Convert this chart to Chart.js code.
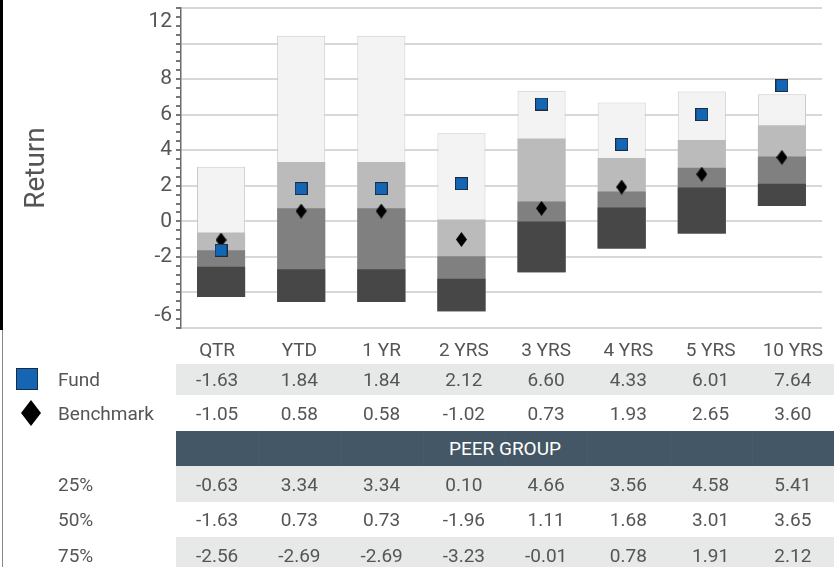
<!DOCTYPE html>
<html>
<head>
<meta charset="utf-8">
<script src="https://cdn.jsdelivr.net/npm/chart.js@4.4.1/dist/chart.umd.min.js"></script>
<style>
  html, body { margin: 0; padding: 0; background: #ffffff; }
  body { width: 839px; height: 567px; position: relative; overflow: hidden; font-family: Roboto, "Open Sans", sans-serif; color: #555; }
  #chartWrap { position: absolute; left: 0; top: 0; width: 839px; height: 340px; }
  .edge1 { position: absolute; left: 0; top: 0; width: 3px; height: 330px; background: #000; }
  .edge2 { position: absolute; left: 2px; top: 330px; width: 1px; height: 237px; background: #888; }
  .row { position: absolute; left: 0; width: 839px; }
  .bg { position: absolute; left: 176px; width: 658px; top: 0; bottom: 0; }
  .cell { position: absolute; top: 0; bottom: 0; width: 82.25px; display: flex; align-items: center; justify-content: center; font-size: 19px; color: #555; }
  .lab { position: absolute; left: 58px; top: 0; bottom: 0; display: flex; align-items: center; font-size: 19px; color: #555; }
  .sep { position: absolute; top: 0; bottom: 0; width: 1px; background: rgba(255,255,255,0.03); }
</style>
</head>
<body>
<div id="chartWrap"><canvas id="c" width="839" height="340"></canvas></div>
<div class="edge1"></div><div class="edge2"></div>
<div id="table"></div>
<script>
// ---- data ----
const categories = ['QTR', 'YTD', '1 YR', '2 YRS', '3 YRS', '4 YRS', '5 YRS', '10 YRS'];
const fund       = [-1.63, 1.84, 1.84, 2.12, 6.60, 4.33, 6.01, 7.64];
const benchmark  = [-1.05, 0.58, 0.58, -1.02, 0.73, 1.93, 2.65, 3.60];
const peer5      = [3.07, 10.44, 10.44, 4.95, 7.34, 6.68, 7.30, 7.15];
const peer25     = [-0.63, 3.34, 3.34, 0.10, 4.66, 3.56, 4.58, 5.41];
const peer50     = [-1.63, 0.73, 0.73, -1.96, 1.11, 1.68, 3.01, 3.65];
const peer75     = [-2.56, -2.69, -2.69, -3.23, -0.01, 0.78, 1.91, 2.12];
const peer95     = [-4.26, -4.54, -4.54, -5.06, -2.86, -1.53, -0.68, 0.86];
const yTickLabels = [12, 8, 6, 4, 2, 0, -2, -6];
const yMin = -6, yMax = 12;
const rowLabels = { fund: 'Fund', benchmark: 'Benchmark', peer: 'PEER GROUP', p25: '25%', p50: '50%', p75: '75%' };

const FONT = 'Roboto, "Open Sans", sans-serif';
const TEXT = '#555555';

// marker images
function makeSquare(size, fill, stroke) {
  const c = document.createElement('canvas');
  c.width = size; c.height = size;
  const g = c.getContext('2d');
  g.fillStyle = fill; g.fillRect(0, 0, size, size);
  g.strokeStyle = stroke; g.lineWidth = 1; g.strokeRect(0.5, 0.5, size - 1, size - 1);
  return c;
}
function makeDiamond(w, h, fill) {
  const c = document.createElement('canvas');
  c.width = w; c.height = h;
  const g = c.getContext('2d');
  g.fillStyle = fill;
  g.beginPath(); g.moveTo(w / 2, 0); g.lineTo(w, h / 2); g.lineTo(w / 2, h); g.lineTo(0, h / 2); g.closePath(); g.fill();
  return c;
}
const squareImg = makeSquare(13, '#1565b5', '#1d2b3e');
const diamondImg = makeDiamond(11, 15, '#000000');

// each band drawn from the 95th percentile up to its own upper level; later (lower) bands paint over
function ranges(lo, hi) { return lo.map((v, i) => [v, hi[i]]); }

const yLabelPlugin = {
  id: 'yLabels',
  afterDraw(chart) {
    const s = chart.scales.y;
    const ctx = chart.ctx;
    ctx.save();
    ctx.font = '21px ' + FONT;
    ctx.fillStyle = TEXT;
    ctx.textAlign = 'right';
    ctx.textBaseline = 'middle';
    yTickLabels.forEach(v => {
      let y = s.getPixelForValue(v);
      if (v === yMax) y += 14;
      if (v === yMin) y -= 12;
      ctx.fillText(String(v), s.right - 9, y);
    });
    ctx.restore();
  }
};

const isMajor = v => Math.abs(v - Math.round(v / 2) * 2) < 1e-6;

new Chart(document.getElementById('c'), {
  data: {
    labels: categories,
    datasets: [
      { type: 'line', label: 'Fund', data: fund, showLine: false, pointStyle: squareImg, order: 0 },
      { type: 'line', label: 'Benchmark', data: benchmark, showLine: false, pointStyle: diamondImg, order: 1 },
      { type: 'bar', label: '5-25', data: ranges(peer95, peer5), backgroundColor: '#f3f3f3', borderColor: '#cbcbcb', borderWidth: 1, borderSkipped: false, order: 5 },
      { type: 'bar', label: '25-50', data: ranges(peer95, peer25), backgroundColor: '#bbbbbb', borderWidth: 0, order: 4 },
      { type: 'bar', label: '50-75', data: ranges(peer95, peer50), backgroundColor: '#808080', borderWidth: 0, order: 3 },
      { type: 'bar', label: '75-95', data: ranges(peer95, peer75), backgroundColor: '#474747', borderWidth: 0, order: 2 }
    ]
  },
  options: {
    responsive: false,
    animation: false,
    devicePixelRatio: 1,
    layout: { padding: { top: 8, bottom: 12, left: 0, right: 17 } },
    plugins: { legend: { display: false }, tooltip: { enabled: false } },
    datasets: { bar: { categoryPercentage: 1, barPercentage: 0.6, grouped: false } },
    scales: {
      x: { display: false, stacked: true, offset: true },
      y: {
        min: yMin, max: yMax,
        afterFit: s => { s.width = 181; },
        ticks: { display: false, stepSize: 0.5, autoSkip: false, maxTicksLimit: 100 },
        grid: {
          color: c => (c.tick && isMajor(c.tick.value)) ? '#d8d8d8' : 'rgba(0,0,0,0)',
          lineWidth: 2,
          tickColor: '#777777',
          tickLength: 5,
          drawTicks: true
        },
        border: { display: true, color: '#6b6b6b', width: 1.5 },
        title: { display: true, text: 'Return', color: TEXT, font: { family: FONT, size: 28 }, padding: { top: 20, bottom: 0 } }
      }
    }
  },
  plugins: [yLabelPlugin]
});

// ---- table ----
const table = document.getElementById('table');
const colLeft = 176, colW = 82.25;
function addRow(top, height, opts) {
  const r = document.createElement('div');
  r.className = 'row';
  r.style.top = top + 'px';
  r.style.height = height + 'px';
  if (opts.bg) {
    const b = document.createElement('div');
    b.className = 'bg';
    b.style.background = opts.bg;
    r.appendChild(b);
  }
  if (opts.label) {
    const l = document.createElement('div');
    l.className = 'lab';
    l.textContent = opts.label;
    r.appendChild(l);
  }
  if (opts.marker) r.appendChild(opts.marker);
  if (opts.values) {
    opts.values.forEach((v, i) => {
      const c = document.createElement('div');
      c.className = 'cell';
      c.style.left = (colLeft + i * colW) + 'px';
      c.textContent = v;
      r.appendChild(c);
    });
  }
  if (opts.center) {
    for (let i = 1; i < categories.length; i++) {
      const s = document.createElement('div');
      s.className = 'sep';
      s.style.left = Math.round(colLeft + i * colW) + 'px';
      r.appendChild(s);
    }
    const c = document.createElement('div');
    c.className = 'cell';
    c.style.left = colLeft + 'px';
    c.style.width = (colW * categories.length) + 'px';
    c.style.color = '#ffffff';
    c.textContent = opts.center;
    r.appendChild(c);
  }
  table.appendChild(r);
}
const fmt = arr => arr.map(v => v.toFixed(2));

const legSq = document.createElement('div');
legSq.style.cssText = 'position:absolute;left:16px;top:4px;width:20px;height:20px;background:#1565b5;border:1px solid #1d2b3e;';
const legDi = document.createElement('div');
legDi.style.cssText = 'position:absolute;left:21px;top:5px;width:20px;height:26px;';
legDi.innerHTML = '<svg width="20" height="26"><polygon points="10,0 20,13 10,26 0,13" fill="#000"/></svg>';

addRow(332, 34, { values: categories });
addRow(364, 31, { bg: '#e6e9e8', label: rowLabels.fund, marker: legSq, values: fmt(fund) });
addRow(395, 36, { label: rowLabels.benchmark, marker: legDi, values: fmt(benchmark) });
addRow(431, 35, { bg: '#435766', center: rowLabels.peer });
addRow(466, 36, { bg: '#e6e9e8', label: rowLabels.p25, values: fmt(peer25) });
addRow(502, 35, { label: rowLabels.p50, values: fmt(peer50) });
addRow(537, 36, { bg: '#e6e9e8', label: rowLabels.p75, values: fmt(peer75) });
</script>
</body>
</html>
